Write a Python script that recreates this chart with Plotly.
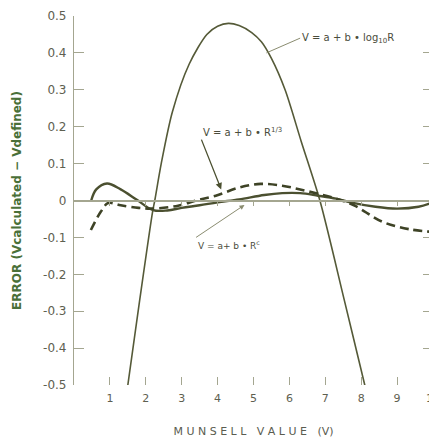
import plotly.graph_objects as go

# error curves
log_x = [1.35, 1.5, 1.83, 2.19, 2.25, 2.43, 2.74, 3.21, 3.7, 4.0, 4.3, 4.6, 4.95, 5.22, 5.5, 5.88, 6.33, 6.85, 7.53, 8.1, 8.25]
log_y = [-0.6, -0.5, -0.27, -0.03, 0.0, 0.1, 0.24, 0.37, 0.45, 0.472, 0.48, 0.474, 0.455, 0.43, 0.385, 0.3, 0.16, 0.0, -0.27, -0.5, -0.56]

cube_x = [0.47, 0.75, 0.95, 1.3, 1.8, 2.2, 2.9, 3.4, 3.95, 4.6, 5.2, 5.8, 6.3, 6.8, 7.3, 7.8, 8.6, 9.35, 10]
cube_y = [-0.08, -0.03, -0.007, -0.013, -0.02, -0.022, -0.014, 0.0, 0.013, 0.035, 0.045, 0.04, 0.03, 0.018, 0.005, -0.013, -0.058, -0.078, -0.085]

pow_x = [0.48, 0.62, 0.92, 1.3, 1.75, 2.2, 2.6, 3.0, 3.5, 4.0, 4.6, 5.3, 5.8, 6.3, 6.8, 7.3, 7.7, 8.4, 9.0, 9.6, 10]
pow_y = [0.0, 0.03, 0.046, 0.03, 0.002, -0.026, -0.027, -0.02, -0.013, -0.005, 0.003, 0.015, 0.02, 0.02, 0.013, 0.005, -0.005, -0.017, -0.022, -0.017, -0.005]

x_ticks = [1, 2, 3, 4, 5, 6, 7, 8, 9, 10]
y_ticks = [0.5, 0.4, 0.3, 0.2, 0.1, 0, -0.1, -0.2, -0.3, -0.4, -0.5]
y_labels = ["0.5", "0.4", "0.3", "0.2", "0.1", "0", "-0.1", "-0.2", "-0.3", "-0.4", "-0.5"]

ink = "#4b5030"
axis_col = "#a4a690"
text_col = "#5e6050"
font = "DejaVu Sans"

fig = go.Figure()

fig.add_trace(go.Scatter(x=log_x, y=log_y, mode="lines", line=dict(color="#555a38", width=1.6, shape="spline", smoothing=0.8),
                         showlegend=False, hoverinfo="skip"))
fig.add_trace(go.Scatter(x=pow_x, y=pow_y, mode="lines", line=dict(color=ink, width=2.4, shape="spline"),
                         showlegend=False, hoverinfo="skip"))
fig.add_trace(go.Scatter(x=cube_x, y=cube_y, mode="lines", line=dict(color="#3e4326", width=2.6, shape="spline", dash="9px,5px"),
                         showlegend=False, hoverinfo="skip"))

# labels with leader lines
ann_font = dict(family=font, size=10, color="#4a4c3c")
fig.add_annotation(x=5.36, y=0.40, ax=6.3, ay=0.44, axref="x", ayref="y",
                   text="V = a + b • log<sub>10</sub>R", xanchor="left", yanchor="middle",
                   showarrow=True, arrowhead=0, arrowwidth=1, arrowcolor="#8a8c70", font=ann_font)
fig.add_annotation(x=4.1, y=0.03, ax=3.55, ay=0.165, axref="x", ayref="y",
                   text="V = a + b • R<sup>1/3</sup>", xanchor="left", yanchor="bottom",
                   showarrow=True, arrowhead=2, arrowsize=1, arrowwidth=1.3, arrowcolor=ink, font=ann_font)
fig.add_annotation(x=4.75, y=-0.012, ax=3.4, ay=-0.1, axref="x", ayref="y",
                   text="V = a+ b • R<sup>c</sup>", xanchor="left", yanchor="top",
                   showarrow=True, arrowhead=2, arrowsize=1, arrowwidth=1, arrowcolor="#8a8c70",
                   font=dict(family=font, size=9, color="#4a4c3c"))

# page adds ~8px body margin, so the figure is sized to fit the 437x438 window
fig.update_layout(
    width=429, height=430,
    margin=dict(l=66, r=4, t=8, b=53),
    plot_bgcolor="white", paper_bgcolor="white",
    font=dict(family=font, color=text_col),
    xaxis=dict(range=[0, 10.001], tickvals=x_ticks, ticks="inside", ticklen=8, tickcolor=axis_col,
               showgrid=False, zeroline=False, showline=False, automargin=False, ticklabeloverflow="allow",
               tickfont=dict(size=11, color=text_col), ticklabelstandoff=5,
               title=dict(text="M U N S E L L   V A L U E   (V)", font=dict(size=11, color="#5a5c50"), standoff=30)),
    xaxis2=dict(range=[0, 10.001], overlaying="x", anchor="free", position=0.5, tickvals=x_ticks,
                ticks="outside", ticklen=5, tickcolor=axis_col, showticklabels=False,
                showline=True, linecolor=axis_col, linewidth=1.5, showgrid=False, zeroline=False),
    yaxis=dict(range=[-0.5, 0.5], tickvals=y_ticks, ticktext=y_labels, ticks="inside", ticklen=10,
               tickcolor=axis_col, showline=True, linecolor=axis_col, linewidth=1.2, mirror="ticks",
               showgrid=False, zeroline=False, automargin=False, tickfont=dict(size=12, color=text_col),
               ticklabelstandoff=4,
               title=dict(text="<b>ERROR (Vcalculated − Vdefined)</b>", font=dict(size=12, color="#4a7038"), standoff=18)),
)

# dummy trace to keep the zero-line axis drawn
fig.add_trace(go.Scatter(x=[0], y=[0], xaxis="x2", mode="markers", marker=dict(opacity=0), showlegend=False, hoverinfo="skip"))

fig.write_html("out.html")
